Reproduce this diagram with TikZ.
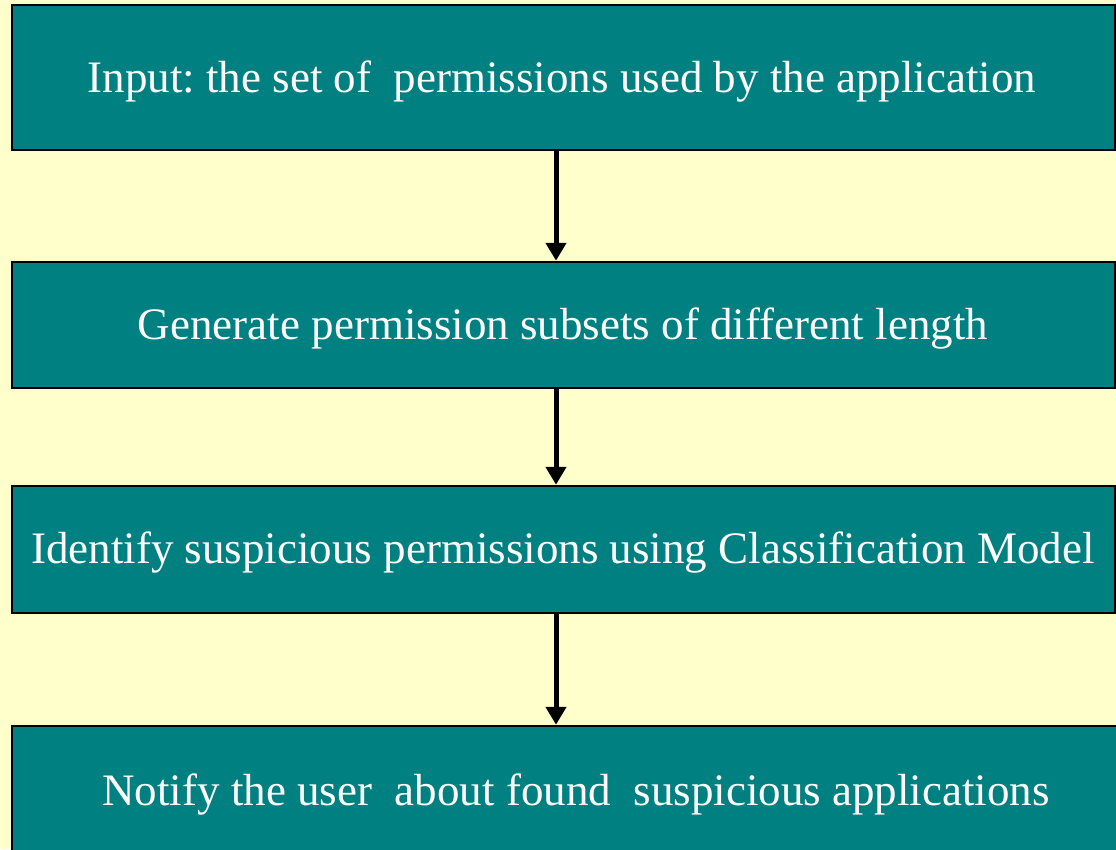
\documentclass[tikz,border=0pt]{standalone}
\usepackage{fontspec}
\setmainfont{Liberation Serif}
\frenchspacing
\usetikzlibrary{arrows.meta}
\definecolor{bgyellow}{HTML}{FFFFCC}
\definecolor{boxteal}{HTML}{008080}
\tikzset{
  stepbox/.style={draw=black,line width=2.5pt,fill=boxteal,text=white,
    minimum width=1103pt,inner sep=0pt},
  steptext/.style={text=white,font=\fontsize{45}{52}\selectfont},
  flow/.style={line width=5pt,-{Triangle[length=18pt,width=20pt]}}
}
\begin{document}
\begin{tikzpicture}[x=1pt,y=-1pt]
\fill[bgyellow] (0,0) rectangle (1116,849);
\useasboundingbox (0,0) rectangle (1116,849);
\clip (0,0) rectangle (1116,849);
\node[stepbox,minimum height=145pt] (input) at (563.5,77.5) {};
\node[stepbox,minimum height=126pt] (generate) at (563.5,325) {};
\node[stepbox,minimum height=127pt] (identify) at (563.5,549.5) {};
\node[stepbox,minimum height=134pt,minimum width=1123pt] (notify) at (573.5,793) {};
\node[steptext] at (562,82) {Input: the set of~ permissions used by the application};
\node[steptext] at (563,329) {Generate permission subsets of different length};
\node[steptext] at (563,553) {Identify suspicious permissions using Classification Model};
\node[steptext] at (576,795) {Notify the user~ about found~ suspicious applications};
\draw[flow] (input.south -| 556,0) -- (generate.north -| 556,0);
\draw[flow] (generate.south -| 556,0) -- (identify.north -| 556,0);
\draw[flow] (identify.south -| 556,0) -- (notify.north -| 556,0);
\end{tikzpicture}
\end{document}
